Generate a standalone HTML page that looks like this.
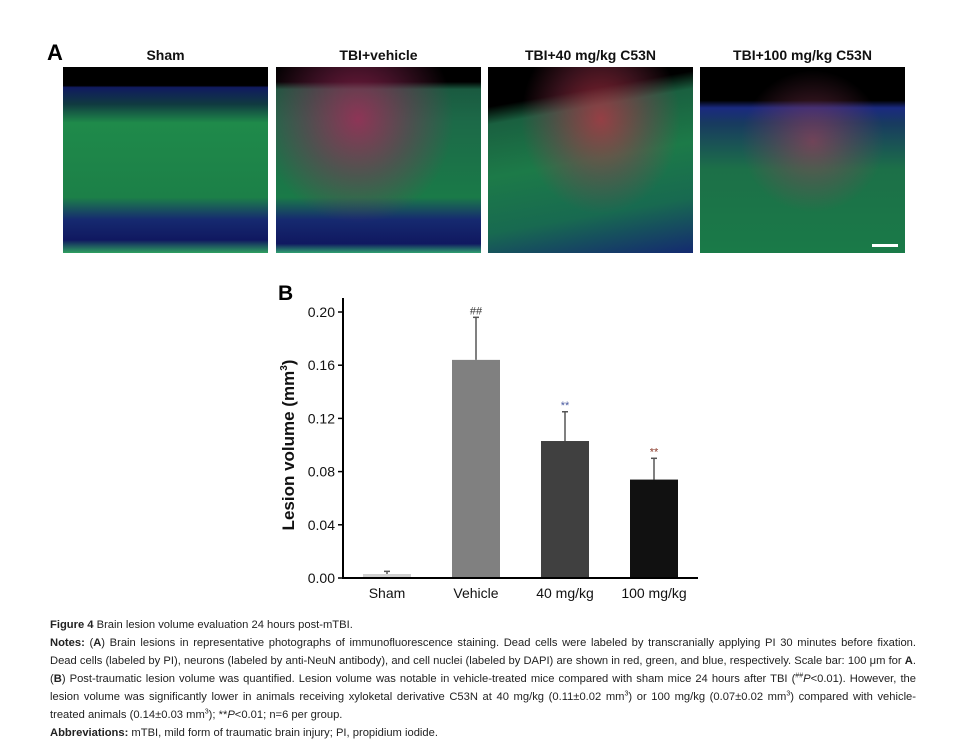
<!DOCTYPE html>
<html><head><meta charset="utf-8"><style>
body{margin:0;background:#fff;width:955px;height:747px;position:relative;overflow:hidden;font-family:"Liberation Sans",sans-serif}
.pl{position:absolute;top:67px;width:205px;height:186px;background:#050510}
.pt{position:absolute;top:47px;width:205px;text-align:center;font-weight:bold;font-size:14px;color:#111}
.cl{position:absolute;left:50px;width:866px;font-size:11.2px;line-height:14px;height:14px;color:#222;white-space:nowrap;overflow:visible}
.j{text-align:justify;text-align-last:justify;white-space:normal}
.cl sup{font-size:7px;line-height:0}
</style></head><body>
<div style="position:absolute;left:47px;top:40px;font:bold 22px 'Liberation Sans',sans-serif">A</div>
<div class="pt" style="left:63px">Sham</div>
<div class="pt" style="left:276px">TBI+vehicle</div>
<div class="pt" style="left:488px">TBI+40 mg/kg C53N</div>
<div class="pt" style="left:700px">TBI+100 mg/kg C53N</div>
<div class="pl" style="left:63px;background:linear-gradient(#000 0,#000 10%,#101a60 11%,#103a40 20%,#1f8a4a 30%,#1c8048 70%,#162a70 82%,#101860 93%,#2fa060 100%)"></div>
<div class="pl" style="left:276px;background:radial-gradient(ellipse at 40% 28%,rgba(170,40,90,.8) 0,rgba(150,40,90,.4) 30%,transparent 55%),linear-gradient(#000 0,#000 8%,#1a5a40 12%,#1c6a48 30%,#1a7a48 70%,#162a70 82%,#101860 95%,#30a070 100%)"></div>
<div class="pl" style="left:488px;background:radial-gradient(ellipse at 55% 28%,rgba(190,50,70,.75) 0,rgba(160,50,80,.35) 30%,transparent 50%),linear-gradient(170deg,#000 0,#000 18%,#1a6040 26%,#1c7a48 50%,#186a50 75%,#142a70 100%)"></div>
<div class="pl" style="left:700px;background:radial-gradient(ellipse at 55% 40%,rgba(170,60,90,.6) 0,rgba(150,60,90,.3) 25%,transparent 45%),linear-gradient(#000 0,#000 18%,#1a2a80 22%,#183a60 30%,#1c7048 55%,#1a7a48 100%)"><div style="position:absolute;left:172px;top:177px;width:26px;height:3px;background:#fff"></div></div>

<svg id="ch" width="955" height="747" style="position:absolute;left:0;top:0"></svg>

<div>
<div class="cl" style="top:618px"><b>Figure 4</b> Brain lesion volume evaluation 24 hours post-mTBI.</div>
<div class="cl j" style="top:636px"><b>Notes:</b> (<b>A</b>) Brain lesions in representative photographs of immunofluorescence staining. Dead cells were labeled by transcranially applying PI 30 minutes before fixation.</div>
<div class="cl j" style="top:654px">Dead cells (labeled by PI), neurons (labeled by anti-NeuN antibody), and cell nuclei (labeled by DAPI) are shown in red, green, and blue, respectively. Scale bar: 100 μm for <b>A</b>.</div>
<div class="cl j" style="top:672px">(<b>B</b>) Post-traumatic lesion volume was quantified. Lesion volume was notable in vehicle-treated mice compared with sham mice 24 hours after TBI (<sup>##</sup><i>P</i>&lt;0.01). However, the</div>
<div class="cl j" style="top:690px">lesion volume was significantly lower in animals receiving xyloketal derivative C53N at 40 mg/kg (0.11±0.02 mm<sup>3</sup>) or 100 mg/kg (0.07±0.02 mm<sup>3</sup>) compared with vehicle-</div>
<div class="cl" style="top:708px">treated animals (0.14±0.03 mm<sup>3</sup>); **<i>P</i>&lt;0.01; n=6 per group.</div>
<div class="cl" style="top:726px"><b>Abbreviations:</b> mTBI, mild form of traumatic brain injury; PI, propidium iodide.</div>
</div>

<script>
const categories=["Sham","Vehicle","40 mg/kg","100 mg/kg"];
const values=[0.003,0.164,0.103,0.074];
const errors=[0.002,0.032,0.022,0.016];
const colors=["#d0d0d0","#808080","#404040","#111111"];
const marks=["","##","**","**"];
const markColors=["#000","#333","#4a5aa0","#8a3a2a"];
const ticks=[0,0.04,0.08,0.12,0.16,0.20];
const tickLabels=["0.00","0.04","0.08","0.12","0.16","0.20"];
const NS="http://www.w3.org/2000/svg";
const svg=document.getElementById("ch");
const x0=343,x1=698,yB=578,yT=312,vmax=0.2;
const y=v=>yB-(v/vmax)*(yB-yT);
const xc=i=>387+i*89;
function mk(t,a,txt){const e=document.createElementNS(NS,t);for(const k in a)e.setAttribute(k,a[k]);if(txt!==undefined)e.textContent=txt;svg.appendChild(e);return e;}
let e;
e=mk("text",{x:278,y:300,"font-size":21,"font-weight":"bold","font-family":"Liberation Sans"},"B");


categories.forEach((c,i)=>{
  const bw=48,cx=xc(i);
  const ey=y(values[i]+errors[i]);
  e=mk("line",{x1:cx,x2:cx,y1:y(values[i]),y2:ey,stroke:"#555","stroke-width":1.5});
  
  
  e=mk("line",{x1:cx-3,x2:cx+3,y1:ey,y2:ey,stroke:"#555","stroke-width":1.5});
  
  
  e=mk("rect",{x:cx-bw/2,y:y(values[i]),width:bw,height:yB-y(values[i]),fill:colors[i]});
  
  
  if(marks[i]){e=mk("text",{x:cx,y:ey-3,"text-anchor":"middle","font-size":11,fill:markColors[i],"font-family":"Liberation Sans"},marks[i]);
  
  }
  e=mk("text",{x:cx,y:598,"text-anchor":"middle","font-size":14,fill:"#111","font-family":"Liberation Sans"},c);
  
  
});
e=mk("line",{x1:x0,x2:x0,y1:298,y2:yB+1,stroke:"#000","stroke-width":2});


e=mk("line",{x1:x0-1,x2:x1,y1:yB,y2:yB,stroke:"#000","stroke-width":2});


ticks.forEach((t,i)=>{
  e=mk("line",{x1:x0-5,x2:x0,y1:y(t),y2:y(t),stroke:"#000","stroke-width":1.5});
  
  
  e=mk("text",{x:x0-8,y:y(t)+5,"text-anchor":"end","font-size":14,fill:"#111","font-family":"Liberation Sans"},tickLabels[i]);
  
  
});
e=mk("text",{transform:"translate(294,445) rotate(-90)","text-anchor":"middle","font-size":17,"font-weight":"bold",fill:"#111","font-family":"Liberation Sans"});
e.innerHTML='Lesion volume (mm<tspan dy="-7" font-size="10">3</tspan><tspan dy="7">)</tspan>';


</script>
</body></html>
